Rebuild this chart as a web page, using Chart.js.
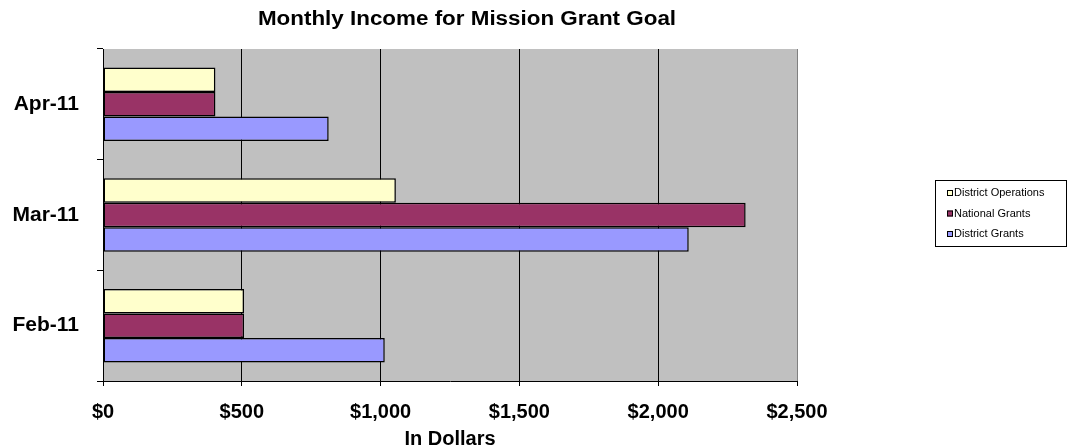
<!DOCTYPE html>
<html>
<head>
<meta charset="utf-8">
<title>Monthly Income for Mission Grant Goal</title>
<script src="https://cdn.jsdelivr.net/npm/chart.js@4/dist/chart.umd.min.js"></script>
<style>
  html, body { margin:0; padding:0; background:#fff; }
  #chartCanvas { display:block; }
</style>
</head>
<body>
<canvas id="chartCanvas" width="1067" height="448"></canvas>
<script>
// ---------- DATA ----------
const months = ["Apr-11", "Mar-11", "Feb-11"];
const districtOperations = [405, 1055, 508];
const nationalGrants = [405, 2315, 508];
const districtGrants = [813, 2110, 1015];
const xTicks = [0, 500, 1000, 1500, 2000, 2500];
const chartTitle = "Monthly Income for Mission Grant Goal";
const xTitle = "In Dollars";

const FONT = '"Liberation Sans", Arial, sans-serif';
const canvasEl = document.getElementById("chartCanvas");

// grey plot area, title and legend box like the excel chart
const plotBg = {
  id: "plotBg",
  beforeDraw(chart){
    const a = chart.chartArea, ctx = chart.ctx;
    ctx.save();
    ctx.fillStyle = "#C0C0C0";
    ctx.fillRect(a.left, a.top, a.right - a.left, a.bottom - a.top);
    ctx.restore();
  },
  afterDraw(chart){
    const ctx = chart.ctx;
    ctx.save();
    // title (original is slightly wide, stretch a bit)
    ctx.fillStyle = "#000";
    ctx.font = "bold 20px " + FONT;
    ctx.textAlign = "center";
    ctx.textBaseline = "middle";
    ctx.translate(467, 19);
    ctx.scale(1.12, 1);
    ctx.fillText(chartTitle, 0, 0);
    ctx.restore();

    // legend box
    ctx.save();
    const lx = 935, ly = 180, lw = 131, lh = 66;
    ctx.fillStyle = "#fff";
    ctx.fillRect(lx, ly, lw, lh);
    ctx.strokeStyle = "#000";
    ctx.lineWidth = 1;
    ctx.strokeRect(lx + 0.5, ly + 0.5, lw, lh);
    ctx.font = "11px " + FONT;
    ctx.textAlign = "left";
    ctx.textBaseline = "middle";
    chart.data.datasets.forEach((ds, i) => {
      const y = ly + 13 + i * 20.5;
      ctx.fillStyle = ds.backgroundColor;
      ctx.fillRect(lx + 12, y - 3, 6, 6);
      ctx.strokeStyle = "#000";
      ctx.strokeRect(lx + 12.5, y - 2.5, 5, 5);
      ctx.fillStyle = "#000";
      ctx.fillText(ds.label, lx + 19, y);
    });
    ctx.restore();
  }
};

// ----- chart init -----
const barStyle = { borderColor:"#000", borderWidth:1.5, borderSkipped:false, categoryPercentage:0.664, barPercentage:1 };

const chart = new Chart(canvasEl, {
  type: "bar",
  data: {
    labels: months,
    datasets: [
      { label:"District Operations", data:districtOperations, backgroundColor:"#FFFFCC", ...barStyle },
      { label:"National Grants", data:nationalGrants, backgroundColor:"#993366", ...barStyle },
      { label:"District Grants", data:districtGrants, backgroundColor:"#9999FF", ...barStyle }
    ]
  },
  options: {
    indexAxis: "y",
    responsive: false,
    animation: false,
    devicePixelRatio: 1,
    layout: { padding: { top:49, right:270, left:0, bottom:0 } },
    plugins: { legend:{ display:false }, tooltip:{ enabled:false }, title:{ display:false } },
    scales: {
      x: {
        min: 0, max: 2500,
        afterBuildTicks: s => { s.ticks = xTicks.map(v => ({ value:v })); },
        afterFit: s => { s.height = 67; },
        grid: {
          color: c => (c.tick && c.tick.value === 2500) ? "#808080" : "#000",
          tickColor: "#000",
          tickLength: 5,
          lineWidth: 1
        },
        border: { color:"#000", width:1 },
        ticks: {
          color:"#000", padding:14,
          font:{ family:FONT, size:20, weight:"bold" },
          callback: v => "$" + Number(v).toLocaleString("en-US")
        },
        title: {
          display:true, text:xTitle, color:"#000",
          font:{ family:FONT, size:20, weight:"bold" },
          padding:{ top:0, bottom:-3 }
        }
      },
      y: {
        afterFit: s => { s.width = 103; },
        grid: { offset:true, drawOnChartArea:false, color:"#000", tickLength:6 },
        border: { color:"#000", width:1 },
        ticks: { color:"#000", padding:18, font:{ family:FONT, size:21, weight:"bold" } }
      }
    }
  },
  plugins: [plotBg]
});
</script>
</body>
</html>
